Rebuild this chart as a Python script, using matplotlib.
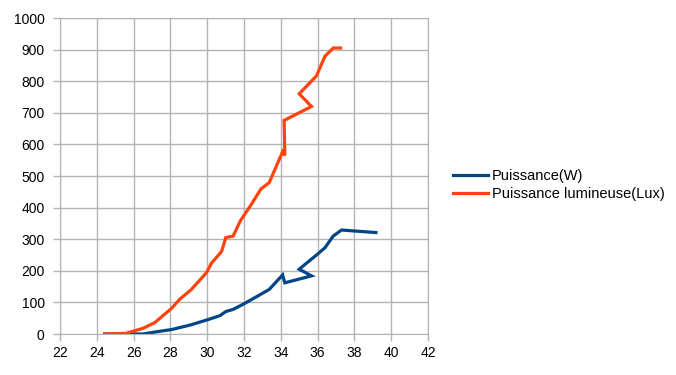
import matplotlib
matplotlib.use("Agg")
import matplotlib.pyplot as plt

plt.rcParams['font.family'] = ['Liberation Sans', 'DejaVu Sans']

x_power = [24.43, 26.51, 27.24, 28.06, 29.05, 29.96, 30.69, 31.01, 31.41, 31.95,
           32.68, 33.37, 34.10, 34.22, 35.67, 35.00, 35.31, 35.94, 36.40, 36.85,
           37.30, 39.17]
y_power = [0, 0, 7, 14, 28, 44, 58, 71, 78, 94,
           118, 141, 187, 162, 184, 205, 220, 250, 273, 310,
           329, 321]

x_lux = [24.43, 25.57, 26.51, 27.15, 28.06, 28.51, 29.14, 29.96, 30.23, 30.78,
         31.01, 31.41, 31.81, 32.32, 32.92, 33.37, 34.10, 34.22, 34.18, 35.67,
         35.00, 35.94, 36.40, 36.85, 37.25]
y_lux = [0, 2, 18, 36, 81, 110, 141, 194, 224, 261,
         305, 310, 359, 403, 459, 479, 577, 565, 676, 720,
         760, 817, 879, 905, 905]

labels = ["Puissance(W)", "Puissance lumineuse(Lux)"]
colors = ["#004586", "#ff420e"]

fig = plt.figure(figsize=(6.76, 3.75), dpi=100)
ax = fig.add_axes([60/676, 1 - 334/375, (428-60)/676, (334-18)/375])

ax.plot(x_power, y_power, color=colors[0], lw=2.3, label=labels[0], solid_joinstyle='miter')
ax.plot(x_lux, y_lux, color=colors[1], lw=2.3, label=labels[1], solid_joinstyle='miter')

ax.set_xlim(22, 42)
ax.set_ylim(0, 1000)
ax.set_xticks(range(22, 43, 2))
ax.set_yticks(range(0, 1001, 100))
ax.grid(True, color="#b3b3b3", lw=1)
ax.set_axisbelow(True)
for s in ax.spines.values():
    s.set_color("#b3b3b3")
ax.tick_params(axis='both', colors="#b3b3b3", labelcolor="black", labelsize=10, length=5, width=1)
ax.tick_params(axis='y', pad=6)

fig.legend(loc='center left', bbox_to_anchor=(453/676, 1 - 185/375), frameon=False,
           fontsize=10.5, handlelength=2.4, labelspacing=0.3, handletextpad=0.25,
           borderpad=0, borderaxespad=0)

fig.savefig("out.png", dpi=100)
